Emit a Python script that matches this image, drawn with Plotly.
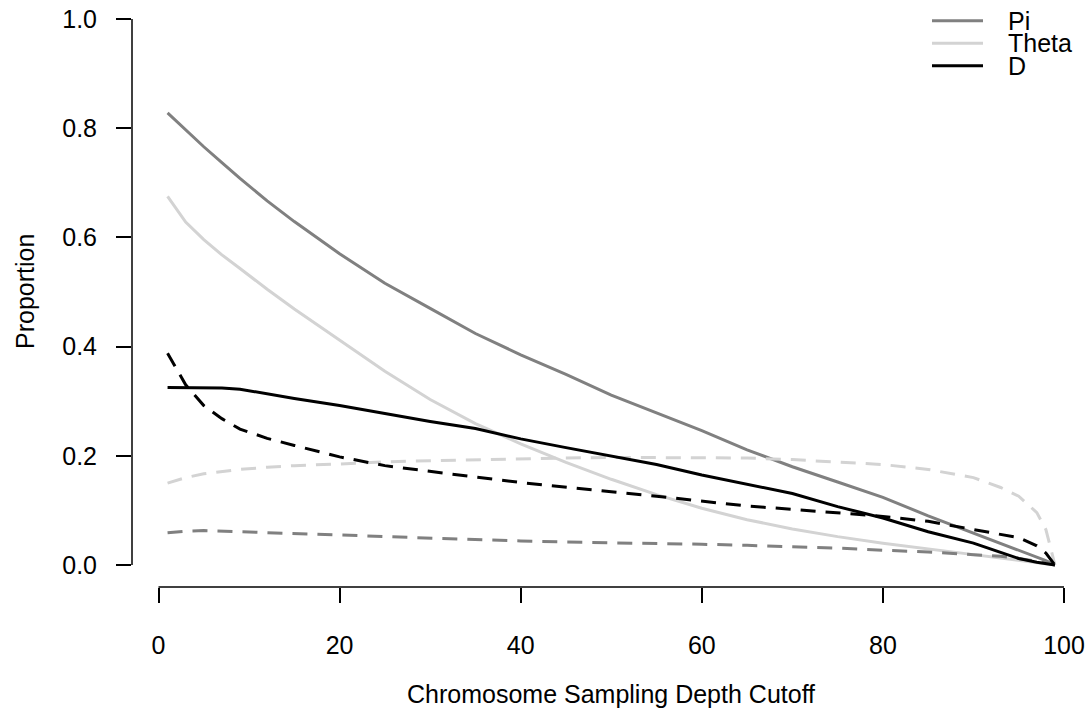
import plotly.graph_objects as go

# Cutoff values (x)
cutoff = [1, 3, 5, 7, 9, 12, 15, 20, 25, 30, 35, 40, 45, 50, 55, 60, 65, 70, 75, 80, 85, 90, 93, 95, 97, 98, 99]

# Solid lines
pi_solid = [0.828, 0.797, 0.766, 0.737, 0.708, 0.667, 0.629, 0.570, 0.516, 0.470, 0.424, 0.385, 0.349, 0.311,
            0.279, 0.246, 0.211, 0.180, 0.152, 0.124, 0.090, 0.058, 0.040, 0.027, 0.014, 0.008, 0.0]
theta_solid = [0.675, 0.628, 0.596, 0.568, 0.543, 0.505, 0.469, 0.412, 0.355, 0.303, 0.259, 0.222, 0.188, 0.157,
               0.129, 0.104, 0.083, 0.066, 0.052, 0.040, 0.029, 0.019, 0.013, 0.009, 0.004, 0.002, 0.0]
d_solid = [0.325, 0.325, 0.325, 0.324, 0.322, 0.313, 0.305, 0.292, 0.277, 0.263, 0.250, 0.231, 0.215, 0.200,
           0.184, 0.165, 0.148, 0.131, 0.107, 0.086, 0.061, 0.040, 0.023, 0.012, 0.005, 0.003, 0.0]

# Dashed lines
pi_dashed = [0.059, 0.062, 0.063, 0.062, 0.061, 0.060, 0.058, 0.055, 0.052, 0.049, 0.046, 0.044, 0.042, 0.041,
             0.039, 0.038, 0.036, 0.034, 0.031, 0.027, 0.024, 0.019, 0.016, 0.012, 0.007, 0.004, 0.0]
theta_dashed = [0.150, 0.160, 0.167, 0.171, 0.175, 0.179, 0.182, 0.185, 0.189, 0.191, 0.193, 0.195, 0.196, 0.197,
                0.197, 0.197, 0.196, 0.193, 0.189, 0.184, 0.175, 0.160, 0.142, 0.126, 0.096, 0.065, 0.0]
d_dashed = [0.388, 0.330, 0.292, 0.268, 0.249, 0.232, 0.219, 0.198, 0.182, 0.171, 0.161, 0.151, 0.142, 0.134,
            0.126, 0.117, 0.108, 0.102, 0.095, 0.089, 0.080, 0.065, 0.056, 0.050, 0.035, 0.022, 0.0]

legend_labels = ["Pi", "Theta", "D"]
x_ticks = [0, 20, 40, 60, 80, 100]
y_ticks = [0.0, 0.2, 0.4, 0.6, 0.8, 1.0]
y_tick_text = ["0.0", "0.2", "0.4", "0.6", "0.8", "1.0"]

PI_COL = "#808080"
TH_COL = "#d3d3d3"
D_COL = "#000000"
LW = 3
DASH = "15px,10px"
FONT = "Liberation Sans, Arial, Helvetica, sans-serif"
FS = 25

fig = go.Figure()
series = [
    (pi_solid, PI_COL, "solid"),
    (theta_solid, TH_COL, "solid"),
    (theta_dashed, TH_COL, DASH),
    (pi_dashed, PI_COL, DASH),
    (d_dashed, D_COL, DASH),
    (d_solid, D_COL, "solid"),
]
for ys, col, dash in series:
    fig.add_trace(go.Scatter(x=cutoff, y=ys, mode="lines",
                             line=dict(color=col, width=LW, dash=dash),
                             showlegend=False, hoverinfo="skip"))

W, H = 1089, 711
L, B = 132, 124
plot_w = W - L
px_per_unit = (1064 - 158.5) / 100.0
x_lo = -(158.5 - L) / px_per_unit
x_hi = x_lo + plot_w / px_per_unit
plot_h = H - B  # 587
py_per_unit = 546.0
y_lo = -(plot_h - 565) / py_per_unit
y_hi = 565 / py_per_unit

fig.update_layout(
    width=W, height=H,
    margin=dict(l=L, r=0, t=0, b=B),
    paper_bgcolor="white", plot_bgcolor="white",
    font=dict(family=FONT, size=FS, color="black"),
    showlegend=False,
    xaxis=dict(range=[x_lo, x_hi], showgrid=False, zeroline=False, showline=False,
               tickmode="array", tickvals=x_ticks, ticktext=[str(v) for v in x_ticks],
               ticks="outside", ticklen=15, tickwidth=1.5, tickcolor="black",
               ticklabelstandoff=21, tickfont=dict(size=FS, family=FONT, color="black")),
    yaxis=dict(range=[y_lo, y_hi], showgrid=False, zeroline=False, showline=False,
               tickmode="array", tickvals=y_ticks, ticktext=y_tick_text,
               ticks="outside", ticklen=15, tickwidth=1.5, tickcolor="black",
               ticklabelstandoff=14, tickfont=dict(size=FS, family=FONT, color="black")),
)

# axis lines spanning first to last tick (R style)
fig.add_shape(type="line", xref="x", yref="paper", x0=x_ticks[0], x1=x_ticks[-1], y0=0, y1=0,
              line=dict(color="black", width=1.5))
fig.add_shape(type="line", xref="paper", yref="y", x0=0, x1=0, y0=y_ticks[0], y1=y_ticks[-1],
              line=dict(color="black", width=1.5))

# axis titles
fig.add_annotation(text="Chromosome Sampling Depth Cutoff", xref="paper", yref="paper",
                   x=(611 - L) / plot_w, y=(plot_h - 694) / plot_h,
                   xanchor="center", yanchor="middle", showarrow=False,
                   font=dict(size=FS, family=FONT, color="black"))
fig.add_annotation(text="Proportion", xref="paper", yref="paper",
                   x=(25 - L) / plot_w, y=(plot_h - 292) / plot_h, textangle=-90,
                   xanchor="center", yanchor="middle", showarrow=False,
                   font=dict(size=FS, family=FONT, color="black"))

# legend (R style, no box)
leg_cols = [PI_COL, TH_COL, D_COL]
leg_y = [20.7, 43.3, 65.7]
for lab, col, yy in zip(legend_labels, leg_cols, leg_y):
    yp = (plot_h - yy) / plot_h
    fig.add_shape(type="line", xref="paper", yref="paper",
                  x0=(932 - L) / plot_w, x1=(983 - L) / plot_w, y0=yp, y1=yp,
                  line=dict(color=col, width=LW))
    fig.add_annotation(text=lab, xref="paper", yref="paper",
                       x=(1006 - L) / plot_w, y=yp, xanchor="left", yanchor="middle",
                       showarrow=False, font=dict(size=FS, family=FONT, color="black"))

fig.write_html("out.html")
